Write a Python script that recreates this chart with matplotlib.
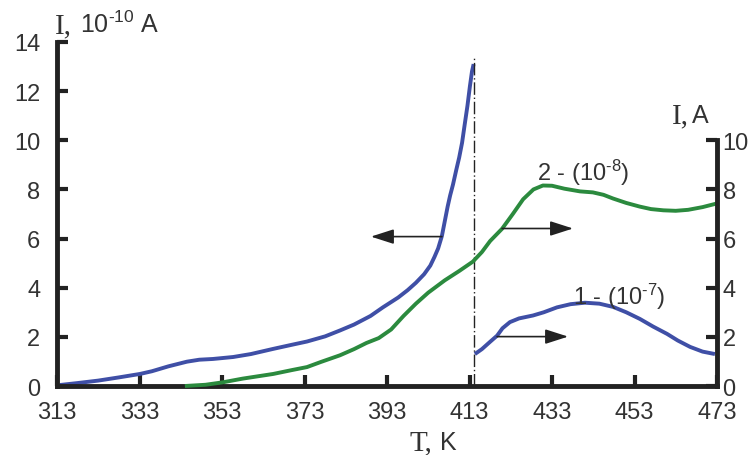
import matplotlib
matplotlib.use('Agg')
import matplotlib.pyplot as plt
import numpy as np

# шрифты
plt.rcParams['font.family'] = ['Liberation Sans', 'DejaVu Sans']
plt.rcParams['mathtext.fontset'] = 'custom'
plt.rcParams['mathtext.rm'] = 'Liberation Sans'
plt.rcParams['mathtext.it'] = 'Liberation Sans'

# кривая 1, левая ось (10^-10 A)
T_left = [313.7, 318, 323, 328, 333.1, 336, 340, 344.5, 347.5, 350.8, 355.7, 360, 365.4, 370,
          373.6, 378, 381.6, 385, 389, 392, 395.7, 398, 400, 402, 403.5, 404.5, 405.4, 406.3,
          407, 407.7, 408.3, 409, 409.8, 410.5, 411.2, 411.8, 412.5, 413.1, 413.6, 414.0]
I_left = [0.04, 0.12, 0.22, 0.35, 0.49, 0.6, 0.8, 0.99, 1.07, 1.1, 1.18, 1.3, 1.51, 1.68,
          1.81, 2.02, 2.26, 2.5, 2.85, 3.2, 3.6, 3.9, 4.2, 4.55, 4.9, 5.25, 5.6, 6.1,
          6.7, 7.3, 7.75, 8.2, 8.8, 9.3, 9.9, 10.6, 11.4, 12.2, 12.8, 13.1]

# кривая 2, правая ось (10^-8 A)
T_green = [344, 349, 353.2, 358, 365.4, 370, 373.6, 377, 381.6, 385, 388, 391, 394, 397, 400,
           403, 407, 410.5, 413.8, 416, 418, 420.9, 423.5, 426, 428.5, 430.8, 433, 436, 439.8,
           442.9, 445.5, 447.8, 451, 454.3, 457, 460, 463, 466, 469.5, 473]
I_green = [0.0, 0.05, 0.15, 0.3, 0.49, 0.65, 0.77, 0.98, 1.25, 1.5, 1.75, 1.95, 2.3, 2.85, 3.35,
           3.8, 4.3, 4.68, 5.06, 5.45, 5.9, 6.4, 7.0, 7.6, 8.0, 8.16, 8.15, 8.03, 7.92,
           7.88, 7.78, 7.63, 7.45, 7.3, 7.2, 7.15, 7.13, 7.17, 7.28, 7.43]

# кривая 1, правая ось (10^-7 A)
T_blue2 = [414.3, 416, 418, 419.7, 421, 422.8, 425, 428.4, 431, 434.2, 437.5, 441, 444.5,
           447.8, 451, 454.3, 457.5, 460.9, 463.5, 466.5, 469.5, 472.5]
I_blue2 = [1.3, 1.5, 1.8, 2.05, 2.35, 2.6, 2.75, 2.87, 3.0, 3.2, 3.33, 3.39, 3.35,
           3.22, 3.0, 2.73, 2.42, 2.12, 1.85, 1.59, 1.4, 1.3]

xticks = [313, 333, 353, 373, 393, 413, 433, 453, 473]
yticks_left = [0, 2, 4, 6, 8, 10, 12, 14]
yticks_right = [0, 2, 4, 6, 8, 10]

blue = '#3f4fa6'
green = '#2b8a3e'
txt = '#333333'
spine_lw = 3.5

fig = plt.figure(figsize=(7.51, 4.56), dpi=100)
ax = fig.add_axes([57/751, 1-387/456, 660/751, 344/456])
ax2 = ax.twinx()

kw = dict(lw=2.8, clip_on=False, solid_capstyle='butt', solid_joinstyle='round')
ax.plot(T_left, I_left, color=blue, **kw)
ax2.plot(T_green, I_green, color=green, **kw)
ax2.plot(T_blue2, I_blue2, color=blue, **kw)

# вертикальная штрихпунктирная линия
ax.plot([414.1, 414.1], [0, 13.4], color='#222222', lw=1.0, ls=(0, (9, 2, 1, 2)))

for a in (ax, ax2):
    a.set_xlim(313, 473)
    a.set_ylim(0, 14)
    a.spines['top'].set_visible(False)
    for s in ('left', 'right', 'bottom'):
        a.spines[s].set_linewidth(spine_lw)
        a.spines[s].set_color('#222222')

ax.spines['right'].set_visible(False)
ax2.spines['left'].set_visible(False)
ax2.spines['bottom'].set_visible(False)
ax2.spines['right'].set_bounds(0, 10)

ax.set_xticks(xticks)
ax.set_xticklabels([str(t) for t in xticks], fontsize=17)
ax.set_yticks(yticks_left)
ax.set_yticklabels([str(t) for t in yticks_left], fontsize=17)
ax2.set_yticks(yticks_right)
ax2.set_yticklabels([str(t) for t in yticks_right], fontsize=17)

ax.tick_params(axis='x', direction='in', length=8, width=3, pad=11, colors='#222222', labelcolor=txt)
ax.tick_params(axis='y', direction='in', length=8, width=3, pad=12, colors='#222222', labelcolor=txt)
ax2.tick_params(axis='y', direction='in', length=8, width=3, pad=4, colors='#222222', labelcolor=txt)

# стрелки
arr = dict(arrowstyle='-|>,head_length=1.4,head_width=0.45', color='#222222', lw=1.2, shrinkA=0, shrinkB=0)
ax.annotate('', xy=(389.1, 6.08), xytext=(406.3, 6.08), arrowprops=arr)
ax2.annotate('', xy=(438.1, 6.41), xytext=(420.9, 6.41), arrowprops=arr)
ax2.annotate('', xy=(436.9, 2.01), xytext=(419.7, 2.01), arrowprops=arr)

# подписи кривых
ax2.text(440.5, 8.37, r'2 - (10$^{\text{-8}}$)', fontsize=17, color=txt, ha='center', va='baseline')
ax2.text(449.4, 3.35, r'1 - (10$^{\text{-7}}$)', fontsize=17, color=txt, ha='center', va='baseline')

# подписи осей
serif = ['Liberation Serif', 'DejaVu Serif']
fig.text(55/751, 1-33/456, 'I,', family=serif, fontsize=21, color=txt, va='baseline')
fig.text(80/751, 1-33/456, r'10$^{\text{-10}}$ A', fontsize=18, color=txt, va='baseline')
fig.text(672/751, 1-123/456, 'I,', family=serif, fontsize=21, color=txt, va='baseline')
fig.text(692/751, 1-123/456, 'A', fontsize=18, color=txt, va='baseline')
fig.text(409/751, 1-450/456, 'T,', family=serif, fontsize=21, color=txt, va='baseline')
fig.text(440/751, 1-450/456, 'K', fontsize=18, color=txt, va='baseline')

fig.savefig('out.png', dpi=100)
